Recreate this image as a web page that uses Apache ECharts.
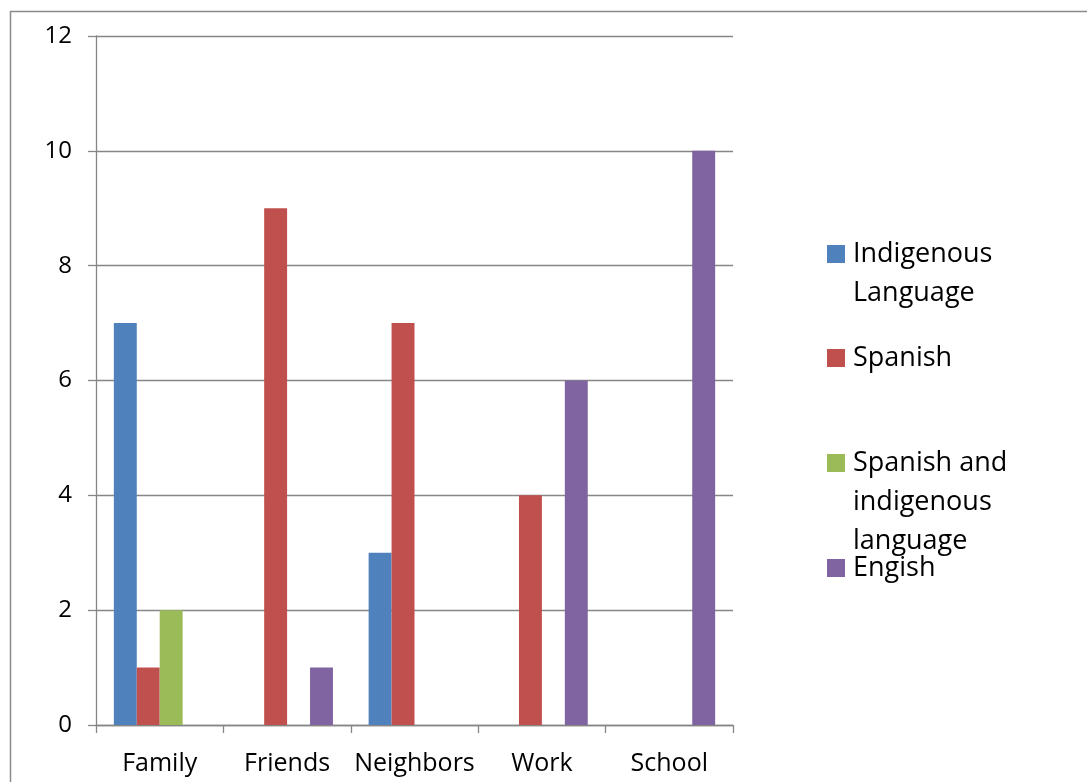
<!DOCTYPE html>
<html>
<head>
<meta charset="utf-8">
<script src="https://cdn.jsdelivr.net/npm/echarts@6/dist/echarts.min.js"></script>
<style>
html,body{margin:0;padding:0;background:#fff;}
#chart{width:1087px;height:782px;}
</style>
</head>
<body>
<div id="chart"></div>
<script>
var categories = ['Family', 'Friends', 'Neighbors', 'Work', 'School'];
var seriesNames = ['Indigenous Language', 'Spanish', 'Spanish and indigenous language', 'Engish'];
var legendLines = [['Indigenous', 'Language'], ['Spanish'], ['Spanish and', 'indigenous', 'language'], ['Engish']];
var indigenous = [7, 0, 3, 0, 0];
var spanish = [1, 9, 7, 4, 0];
var spanishIndigenous = [2, 0, 0, 0, 0];
var english = [0, 1, 0, 6, 10];
var colors = ['#4F81BD', '#C0504D', '#9BBB59', '#8064A2'];
var yTicks = [0, 2, 4, 6, 8, 10, 12];

var values = [indigenous, spanish, spanishIndigenous, english];
var FONT = '"Open Sans", sans-serif';

var chart = echarts.init(document.getElementById('chart'), null, {renderer: 'canvas'});

var graphics = [{
  type: 'rect',
  shape: {x: 10.5, y: 11.5, width: 1200, height: 900},
  style: {fill: 'none', stroke: '#8a8a8a', lineWidth: 1.5},
  silent: true
}];
var legendTop = [254, 358, 463, 568];
seriesNames.forEach(function (n, i) {
  graphics.push({
    type: 'rect',
    shape: {x: 827, y: legendTop[i] - 9, width: 18, height: 18},
    style: {fill: colors[i]},
    silent: true
  });
  legendLines[i].forEach(function (line, j) {
    graphics.push({
      type: 'text',
      x: 853,
      y: legendTop[i] + j * 39,
      style: {text: line, fill: '#000', font: '27px ' + FONT, textVerticalAlign: 'middle', textAlign: 'left'},
      silent: true
    });
  });
});

chart.setOption({
  animation: false,
  color: colors,
  textStyle: {fontFamily: FONT},
  grid: {left: 96, right: 354, top: 36, bottom: 57, containLabel: false},
  xAxis: {
    type: 'category',
    data: categories,
    axisLine: {show: true, lineStyle: {color: '#868686', width: 1.3}},
    axisTick: {show: true, length: 8, alignWithLabel: false, lineStyle: {color: '#868686', width: 1.3}},
    axisLabel: {color: '#000', fontSize: 25, margin: 26, interval: 0, fontFamily: FONT}
  },
  yAxis: {
    type: 'value',
    min: 0, max: 12, interval: 2,
    axisLine: {show: true, lineStyle: {color: '#868686', width: 1.3}},
    axisTick: {show: true, length: 8, lineStyle: {color: '#868686', width: 1.3}},
    axisLabel: {color: '#000', fontSize: 24, margin: 24, fontFamily: FONT,
      formatter: function (v) { return yTicks.indexOf(v) >= 0 ? String(v) : ''; }},
    splitLine: {show: true, lineStyle: {color: '#868686', width: 1.3}}
  },
  series: seriesNames.map(function (n, i) {
    return {
      name: n,
      type: 'bar',
      data: values[i],
      barGap: '0%',
      barCategoryGap: '28%',
      itemStyle: {color: colors[i]}
    };
  }),
  graphic: graphics
});
</script>
</body>
</html>
